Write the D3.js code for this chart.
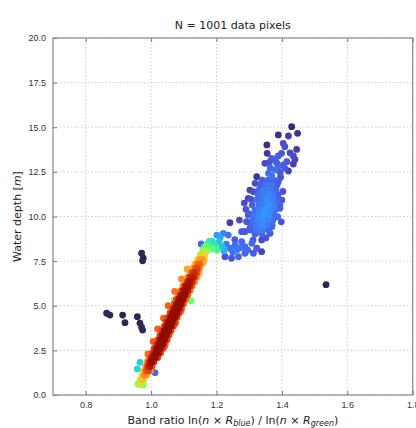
<!DOCTYPE html>
<html>
<head>
  <title>Depth vs band ratio</title>
  <meta charset="utf8">
  <style type="text/css">
    body { margin: 0; background: #fff; font-family: "DejaVu Sans", sans-serif; }
    .grid line { stroke: #cfcfcf; stroke-dasharray: 1.5 2; }
    .tick text { fill: #333; font-size: 9px; }
  </style>
</head>
<body>

<script src="https://d3js.org/d3.v7.min.js"></script>

<script type="text/javascript">
var width = 416, height = 428;
var margin = {top: 38, left: 53, bottom: 33};

var xTicks = [0.8, 1.0, 1.2, 1.4, 1.6, 1.8];
var yTicks = [0.0, 2.5, 5.0, 7.5, 10.0, 12.5, 15.0, 17.5, 20.0];

// [band ratio, depth, point density (0..1)]
var outliers = [
  [1.535, 6.18, 0.02], [0.971, 7.94, 0.02], [0.976, 7.66, 0.02], [0.974, 7.52, 0.02],
  [0.864, 4.58, 0.02], [0.874, 4.48, 0.02], [0.913, 4.48, 0.02], [0.920, 4.05, 0.02],
  [0.958, 4.39, 0.02], [0.966, 4.02, 0.02], [0.971, 3.79, 0.02], [0.974, 3.64, 0.02]
];

var shallowExtras = [
  [1.012, 1.25, 0.12], [0.966, 1.83, 0.28], [0.958, 1.46, 0.30], [0.961, 0.65, 0.42],
  [0.976, 0.56, 0.45], [1.070, 5.32, 0.45], [1.122, 5.28, 0.45],
  [1.162, 8.27, 0.36], [1.175, 8.50, 0.32], [1.153, 8.46, 0.12], [1.180, 8.59, 0.12]
];

var bandPts = [
  [0.960, 0.60, 0.50], [0.966, 0.60, 0.58], [0.972, 0.60, 0.50],
  [0.966, 0.85, 0.55], [0.972, 0.85, 0.65], [0.978, 0.85, 0.60],
  [0.972, 1.10, 0.62], [0.979, 1.10, 0.74], [0.986, 1.10, 0.70],
  [0.978, 1.35, 0.68], [0.985, 1.35, 0.82], [0.992, 1.35, 0.84], [0.998, 1.35, 0.72],
  [0.984, 1.60, 0.74], [0.990, 1.60, 0.87], [0.996, 1.60, 0.92], [1.003, 1.60, 0.82],
  [0.989, 1.85, 0.78], [0.996, 1.85, 0.92], [1.002, 1.85, 0.96], [1.009, 1.85, 0.87],
  [0.995, 2.10, 0.80], [1.002, 2.10, 0.92], [1.008, 2.10, 0.98], [1.015, 2.10, 0.94], [1.021, 2.10, 0.83],
  [1.003, 2.35, 0.83], [1.010, 2.35, 0.94], [1.016, 2.35, 0.99], [1.022, 2.35, 0.95], [1.029, 2.35, 0.84],
  [1.009, 2.60, 0.84], [1.016, 2.60, 0.95], [1.022, 2.60, 1.00], [1.029, 2.60, 0.96], [1.036, 2.60, 0.84],
  [1.015, 2.85, 0.84], [1.022, 2.85, 0.95], [1.029, 2.85, 1.00], [1.036, 2.85, 0.95], [1.043, 2.85, 0.82],
  [1.021, 3.10, 0.84], [1.028, 3.10, 0.96], [1.035, 3.10, 1.00], [1.042, 3.10, 0.96], [1.049, 3.10, 0.84],
  [1.027, 3.35, 0.84], [1.034, 3.35, 0.97], [1.041, 3.35, 1.00], [1.048, 3.35, 0.95], [1.055, 3.35, 0.82],
  [1.033, 3.60, 0.84], [1.040, 3.60, 0.97], [1.047, 3.60, 1.00], [1.054, 3.60, 0.97], [1.061, 3.60, 0.84],
  [1.040, 3.85, 0.84], [1.047, 3.85, 0.96], [1.054, 3.85, 1.00], [1.061, 3.85, 0.97], [1.068, 3.85, 0.84],
  [1.046, 4.10, 0.86], [1.053, 4.10, 0.97], [1.060, 4.10, 1.00], [1.067, 4.10, 0.96], [1.074, 4.10, 0.84],
  [1.052, 4.35, 0.84], [1.059, 4.35, 0.97], [1.066, 4.35, 1.00], [1.073, 4.35, 0.97], [1.080, 4.35, 0.84],
  [1.058, 4.60, 0.84], [1.065, 4.60, 0.96], [1.072, 4.60, 1.00], [1.079, 4.60, 0.97], [1.086, 4.60, 0.84],
  [1.065, 4.85, 0.84], [1.072, 4.85, 0.96], [1.079, 4.85, 1.00], [1.086, 4.85, 0.96], [1.093, 4.85, 0.82],
  [1.071, 5.10, 0.82], [1.078, 5.10, 0.95], [1.085, 5.10, 0.99], [1.092, 5.10, 0.95], [1.099, 5.10, 0.82],
  [1.077, 5.35, 0.82], [1.084, 5.35, 0.95], [1.091, 5.35, 0.98], [1.098, 5.35, 0.94], [1.105, 5.35, 0.80],
  [1.084, 5.60, 0.80], [1.091, 5.60, 0.94], [1.098, 5.60, 0.97], [1.105, 5.60, 0.94], [1.112, 5.60, 0.80],
  [1.091, 5.85, 0.80], [1.098, 5.85, 0.92], [1.105, 5.85, 0.96], [1.112, 5.85, 0.92], [1.119, 5.85, 0.78],
  [1.098, 6.10, 0.78], [1.105, 6.10, 0.92], [1.112, 6.10, 0.95], [1.119, 6.10, 0.90], [1.126, 6.10, 0.78],
  [1.105, 6.35, 0.76], [1.112, 6.35, 0.90], [1.119, 6.35, 0.93], [1.126, 6.35, 0.88], [1.133, 6.35, 0.75],
  [1.112, 6.60, 0.75], [1.119, 6.60, 0.88], [1.126, 6.60, 0.91], [1.133, 6.60, 0.86], [1.140, 6.60, 0.72],
  [1.119, 6.85, 0.72], [1.126, 6.85, 0.85], [1.133, 6.85, 0.88], [1.140, 6.85, 0.82], [1.147, 6.85, 0.68],
  [1.127, 7.10, 0.68], [1.134, 7.10, 0.80], [1.141, 7.10, 0.84], [1.148, 7.10, 0.76],
  [1.134, 7.35, 0.65], [1.141, 7.35, 0.76], [1.148, 7.35, 0.80], [1.155, 7.35, 0.70],
  [1.142, 7.60, 0.60], [1.149, 7.60, 0.70], [1.156, 7.60, 0.72], [1.163, 7.60, 0.62],
  [1.150, 7.85, 0.55], [1.157, 7.85, 0.62], [1.164, 7.85, 0.60],
  [1.158, 8.10, 0.48], [1.165, 8.10, 0.52], [1.172, 8.10, 0.48],
  [1.168, 8.35, 0.42], [1.176, 8.35, 0.40],
  [1.178, 8.60, 0.35], [1.186, 8.60, 0.30],
  // ragged edges
  [0.990, 2.30, 0.78], [1.041, 2.70, 0.80], [1.006, 3.00, 0.80], [1.057, 3.50, 0.78],
  [1.020, 3.70, 0.80], [1.074, 4.00, 0.80], [1.038, 4.30, 0.80], [1.092, 4.70, 0.78],
  [1.052, 5.00, 0.80], [1.108, 5.50, 0.76], [1.072, 5.80, 0.78], [1.124, 6.20, 0.74],
  [1.093, 6.50, 0.74], [1.140, 6.95, 0.70], [1.110, 7.05, 0.70], [1.161, 7.45, 0.66]
];

var clusterPts = [
  // sparse top
  [1.430, 15.03, 0.03], [1.389, 14.57, 0.04], [1.420, 14.51, 0.06], [1.448, 14.66, 0.04],
  [1.354, 14.01, 0.04], [1.404, 14.10, 0.08], [1.409, 13.91, 0.09], [1.445, 13.76, 0.06],
  [1.355, 13.54, 0.05], [1.425, 13.57, 0.08], [1.435, 13.39, 0.08], [1.440, 13.20, 0.07],
  [1.399, 13.54, 0.10], [1.389, 13.39, 0.10], [1.379, 13.20, 0.11], [1.369, 13.26, 0.10],
  [1.348, 12.98, 0.08], [1.435, 12.94, 0.06], [1.415, 13.07, 0.10], [1.404, 12.89, 0.11],
  [1.409, 12.70, 0.10], [1.389, 12.79, 0.12], [1.379, 12.61, 0.13], [1.364, 12.72, 0.12],
  [1.359, 12.42, 0.13], [1.369, 12.27, 0.14], [1.323, 12.23, 0.05], [1.339, 12.04, 0.10],
  [1.318, 11.86, 0.08], [1.302, 11.48, 0.07], [1.313, 11.39, 0.08], [1.297, 11.02, 0.07],
  [1.306, 10.96, 0.09], [1.395, 12.45, 0.10], [1.420, 12.55, 0.07], [1.384, 13.00, 0.10],
  [1.362, 13.05, 0.09], [1.396, 12.20, 0.09],
  // main column
  [1.339, 12.04, 0.11], [1.358, 12.04, 0.12], [1.376, 12.04, 0.11],
  [1.333, 11.76, 0.11], [1.351, 11.76, 0.14], [1.370, 11.76, 0.14], [1.385, 11.76, 0.10],
  [1.330, 11.48, 0.12], [1.345, 11.48, 0.15], [1.364, 11.48, 0.15], [1.382, 11.48, 0.12],
  [1.327, 11.20, 0.13], [1.342, 11.20, 0.15], [1.358, 11.20, 0.16], [1.373, 11.20, 0.15], [1.388, 11.20, 0.11],
  [1.324, 10.92, 0.13], [1.339, 10.92, 0.15], [1.354, 10.92, 0.17], [1.370, 10.92, 0.16], [1.385, 10.92, 0.12],
  [1.330, 10.64, 0.14], [1.345, 10.64, 0.16], [1.361, 10.64, 0.18], [1.376, 10.64, 0.16], [1.394, 10.64, 0.11],
  [1.318, 10.36, 0.13], [1.333, 10.36, 0.16], [1.348, 10.36, 0.19], [1.364, 10.36, 0.17], [1.379, 10.36, 0.14],
  [1.315, 10.08, 0.14], [1.330, 10.08, 0.17], [1.345, 10.08, 0.19], [1.361, 10.08, 0.17], [1.376, 10.08, 0.13],
  [1.312, 9.80, 0.13], [1.327, 9.80, 0.16], [1.342, 9.80, 0.18], [1.358, 9.80, 0.16], [1.373, 9.80, 0.13],
  [1.309, 9.52, 0.12], [1.324, 9.52, 0.15], [1.339, 9.52, 0.17], [1.354, 9.52, 0.15], [1.370, 9.52, 0.12],
  [1.302, 9.24, 0.11], [1.321, 9.24, 0.14], [1.339, 9.24, 0.15], [1.358, 9.24, 0.12],
  [1.318, 9.02, 0.11], [1.339, 9.02, 0.11],
  [1.389, 11.95, 0.10], [1.394, 10.46, 0.11], [1.387, 9.99, 0.12], [1.400, 10.92, 0.09],
  [1.297, 10.08, 0.10], [1.292, 9.71, 0.10], [1.302, 9.34, 0.11], [1.282, 9.15, 0.08],
  [1.241, 9.65, 0.06], [1.309, 10.64, 0.11], [1.369, 9.43, 0.11], [1.287, 9.15, 0.10],
  [1.277, 9.15, 0.10], [1.302, 9.64, 0.10], [1.338, 9.06, 0.12], [1.364, 9.06, 0.10],
  [1.351, 8.80, 0.09], [1.290, 10.40, 0.09], [1.285, 10.75, 0.08], [1.300, 10.15, 0.11],
  [1.270, 9.80, 0.08], [1.403, 11.40, 0.09], [1.398, 9.70, 0.09],
  // lower arm
  [1.201, 8.96, 0.20], [1.221, 9.06, 0.16], [1.236, 8.96, 0.14], [1.190, 8.50, 0.28],
  [1.195, 8.40, 0.34], [1.208, 8.57, 0.27], [1.217, 8.29, 0.26], [1.202, 8.12, 0.38],
  [1.189, 8.18, 0.42], [1.223, 8.07, 0.22], [1.211, 8.80, 0.22],
  [1.241, 8.22, 0.14], [1.257, 8.40, 0.13], [1.277, 8.59, 0.12], [1.287, 8.31, 0.13],
  [1.308, 8.50, 0.12], [1.323, 8.22, 0.10], [1.338, 8.68, 0.08], [1.338, 8.03, 0.07],
  [1.313, 7.94, 0.10], [1.287, 7.94, 0.12], [1.267, 7.75, 0.12], [1.246, 7.66, 0.10],
  [1.262, 8.12, 0.15], [1.226, 7.75, 0.09], [1.272, 8.24, 0.14], [1.250, 8.01, 0.13],
  [1.296, 8.12, 0.12], [1.312, 8.68, 0.10], [1.256, 8.70, 0.11], [1.230, 8.45, 0.15]
];

var x = d3.scaleLinear().domain([0.7, 1.8]).range([margin.left, margin.left + 359.7]);
var y = d3.scaleLinear().domain([0, 20]).range([395, margin.top]);

var svg = d3.select('body').append('svg')
    .attr('width', width)
    .attr('height', height);

// grid
var grid = svg.append('g').attr('class', 'grid');
grid.selectAll('.gx').data(xTicks).enter().append('line')
    .attr('x1', function(d) { return x(d) }).attr('x2', function(d) { return x(d) })
    .attr('y1', y(0)).attr('y2', y(20));
grid.selectAll('.gy').data(yTicks).enter().append('line')
    .attr('y1', function(d) { return y(d) }).attr('y2', function(d) { return y(d) })
    .attr('x1', x(0.7)).attr('x2', x(1.8));

// points, densest drawn last
var pts = outliers.concat(shallowExtras, clusterPts, bandPts)
    .slice().sort(function(a, b) { return a[2] - b[2] });

svg.append('g').selectAll('circle').data(pts).enter().append('circle')
    .attr('cx', function(d) { return x(d[0]) })
    .attr('cy', function(d) { return y(d[1]) })
    .attr('r', 3.4)
    .style('fill', function(d) { return d3.interpolateTurbo(d[2]) });

// axes (ticks pointing inward)
svg.append('g').attr('transform', 'translate(0,' + y(0) + ')')
    .call(d3.axisBottom(x).tickValues(xTicks).tickFormat(d3.format('.1f')).tickSizeInner(-4).tickSizeOuter(0).tickPadding(7));
svg.append('g').attr('transform', 'translate(' + x(0.7) + ',0)')
    .call(d3.axisLeft(y).tickValues(yTicks).tickFormat(d3.format('.1f')).tickSizeInner(-4).tickSizeOuter(0).tickPadding(7));
svg.append('g').attr('transform', 'translate(0,' + y(20) + ')')
    .call(d3.axisTop(x).tickValues(xTicks).tickFormat('').tickSizeInner(-4).tickSizeOuter(0));

svg.selectAll('.tick line').style('stroke', '#777');
svg.selectAll('.domain').remove();

svg.append('rect')
    .attr('x', x(0.7)).attr('y', y(20))
    .attr('width', x(1.8) - x(0.7)).attr('height', y(0) - y(20))
    .style('fill', 'none').style('stroke', '#888').style('stroke-width', 1.2);

// title and labels
svg.append('text')
    .attr('x', (x(0.7) + x(1.8)) / 2).attr('y', 29)
    .attr('text-anchor', 'middle')
    .style('font-size', '11px').style('fill', '#222')
    .text('N = 1001 data pixels');

var xl = svg.append('text')
    .attr('x', (x(0.7) + x(1.8)) / 2).attr('y', 424)
    .attr('text-anchor', 'middle')
    .style('font-size', '11px').style('fill', '#222');
xl.append('tspan').text('Band ratio ln(');
xl.append('tspan').style('font-style', 'italic').text('n');
xl.append('tspan').text(' × ');
xl.append('tspan').style('font-style', 'italic').text('R');
xl.append('tspan').style('font-style', 'italic').style('font-size', '8px').attr('dy', 2).text('blue');
xl.append('tspan').attr('dy', -2).text(') / ln(');
xl.append('tspan').style('font-style', 'italic').text('n');
xl.append('tspan').text(' × ');
xl.append('tspan').style('font-style', 'italic').text('R');
xl.append('tspan').style('font-style', 'italic').style('font-size', '8px').attr('dy', 2).text('green');
xl.append('tspan').attr('dy', -2).text(')');

var yl = svg.append('text')
    .attr('transform', 'translate(21,' + (y(0) + y(20)) / 2 + ') rotate(-90)')
    .attr('text-anchor', 'middle')
    .style('font-size', '11px').style('fill', '#222');
yl.append('tspan').text('Water depth [');
yl.append('tspan').style('font-style', 'italic').text('m');
yl.append('tspan').text(']');
</script>

</body>
</html>
